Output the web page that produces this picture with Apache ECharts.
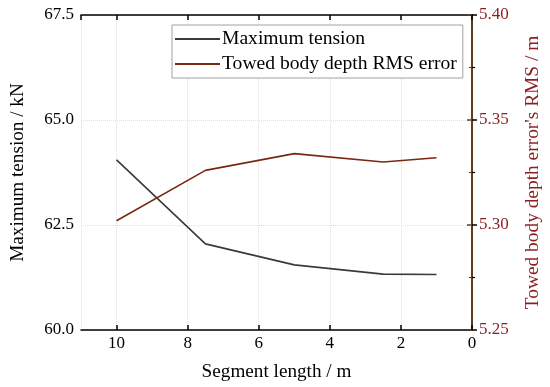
<!DOCTYPE html>
<html><head><meta charset="utf-8">
<script src="https://cdn.jsdelivr.net/npm/echarts@6/dist/echarts.min.js"></script>
<style>html,body{margin:0;padding:0;background:#fff}#c{width:550px;height:387px}</style>
</head><body><div id="c"></div>
<script>
var segmentLength = [10, 7.5, 5, 2.5, 1];
var maxTension = [64.05, 62.05, 61.55, 61.33, 61.32];
var depthRMS = [5.302, 5.326, 5.334, 5.330, 5.332];
var seriesNames = ['Maximum tension', 'Towed body depth RMS error'];
var F = 'Liberation Serif, Times New Roman, serif';
var chart = echarts.init(document.getElementById('c'));
var grid = {left: 80, right: 78, top: 15, bottom: 57};
function pairs(xs, ys){ return xs.map(function(x,i){return [x, ys[i]];}); }
chart.setOption({
  animation: false,
  grid: grid,
  legend: {
    orient: 'vertical', left: 172, top: 25, padding: [4, 6, 4, 3],
    itemWidth: 45, itemHeight: 2, itemGap: 5, icon: 'rect',
    borderColor: '#a0a0a0', borderWidth: 1, backgroundColor: '#fff', borderRadius: 0,
    textStyle: {fontFamily: F, fontSize: 19.6, color: '#000', padding: [0,0,0,-3]},
    data: seriesNames
  },
  xAxis: [{
    type: 'value', min: 0, max: 11, interval: 2, inverse: true,
    name: 'Segment length / m', nameLocation: 'middle', nameGap: 32,
    nameTextStyle: {fontFamily: F, fontSize: 19.2, color: '#000'},
    axisLine: {show: true, lineStyle: {color: '#000', width: 1.5}},
    axisTick: {show: true, inside: true, length: 5, lineStyle: {color: '#000', width: 1.5}},
    axisLabel: {fontFamily: F, fontSize: 17, color: '#000', margin: 5, showMaxLabel: false},
    splitLine: {show: true, lineStyle: {color: '#e0e0e0', type: 'dotted', width: 1}}
  }, {
    type: 'value', min: 0, max: 11, interval: 2, inverse: true, position: 'top',
    axisLine: {show: true, lineStyle: {color: '#000', width: 1.5}},
    axisTick: {show: true, inside: true, length: 5, lineStyle: {color: '#000', width: 1.5}},
    axisLabel: {show: false}, splitLine: {show: false}
  }],
  yAxis: [{
    type: 'value', min: 60, max: 67.5, interval: 2.5, position: 'left',
    name: 'Maximum tension / kN', nameLocation: 'middle', nameGap: 54,
    nameTextStyle: {fontFamily: F, fontSize: 19.2, color: '#000'},
    axisLine: {show: true, lineStyle: {color: '#000', width: 1.5}},
    axisTick: {show: true, inside: true, length: 5, lineStyle: {color: '#000', width: 1.5}},
    minorTick: {show: true, splitNumber: 2, length: 3, lineStyle: {color: '#000', width: 1.2}},
    axisLabel: {fontFamily: F, fontSize: 17, color: '#000', margin: 7, formatter: function(v){return v.toFixed(1);}},
    splitLine: {show: true, lineStyle: {color: '#e0e0e0', type: 'dotted', width: 1}}
  }, {
    type: 'value', min: 5.25, max: 5.40, interval: 0.05, position: 'right',
    name: "Towed body depth error's RMS / m", nameLocation: 'middle', nameGap: 51, nameRotate: 90,
    nameTextStyle: {fontFamily: F, fontSize: 19.4, color: '#8b1f1f'},
    axisLine: {show: true, lineStyle: {color: '#6e3d12', width: 1.5}},
    axisTick: {show: true, inside: true, length: 5, lineStyle: {color: '#6e3d12', width: 1.5}},
    minorTick: {show: true, splitNumber: 2, length: 3, lineStyle: {color: '#6e3d12', width: 1.2}},
    axisLabel: {fontFamily: F, fontSize: 17, color: '#8b1f1f', margin: 7, formatter: function(v){return v.toFixed(2);}},
    splitLine: {show: false}
  }],
  series: [{
    name: seriesNames[0], type: 'line', xAxisIndex: 0, yAxisIndex: 0,
    data: pairs(segmentLength, maxTension), showSymbol: false, symbol: 'none',
    lineStyle: {color: '#3a3a3a', width: 1.6}, itemStyle: {color: '#3a3a3a'}
  }, {
    name: seriesNames[1], type: 'line', xAxisIndex: 0, yAxisIndex: 1,
    data: pairs(segmentLength, depthRMS), showSymbol: false, symbol: 'none',
    lineStyle: {color: '#7a2812', width: 1.6}, itemStyle: {color: '#7a2812'}
  }]
});
</script></body></html>
